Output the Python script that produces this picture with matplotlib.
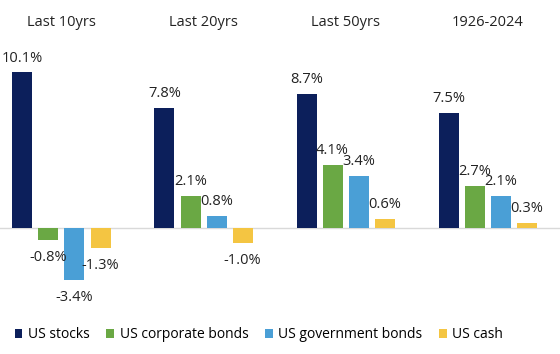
import matplotlib
matplotlib.use("Agg")
import numpy as np
from matplotlib import pyplot as plt
from matplotlib.patches import Patch
import matplotlib.transforms as mtransforms

plt.rcParams['font.family'] = ['Open Sans', 'DejaVu Sans']

periods = ['Last 10yrs', 'Last 20yrs', 'Last 50yrs', '1926-2024']
series = ['US stocks', 'US corporate bonds', 'US government bonds', 'US cash']
stocks = [10.1, 7.8, 8.7, 7.5]
corp_bonds = [-0.8, 2.1, 4.1, 2.7]
gov_bonds = [-3.4, 0.8, 3.4, 2.1]
cash = [-1.3, -1.0, 0.6, 0.3]
colors = ['#0c1f5b', '#6aa844', '#4a9fd6', '#f4c542']

values = [stocks, corp_bonds, gov_bonds, cash]

fig = plt.figure(figsize=(5.6, 3.54), dpi=100)
# axes placed in pixel terms: top 40px, bottom 305px
ax = fig.add_axes([0, (354 - 305) / 354, 1, (305 - 40) / 354])

x = np.arange(len(periods))
offsets = np.array([-39, -13, 13, 39]) / 142
width = 20 / 142

for vals, off, col in zip(values, offsets, colors):
    bars = ax.bar(x + off, vals, width, color=col, zorder=2)
    for b, v in zip(bars, vals):
        if v >= 0:
            ax.annotate(f'{v:.1f}%', (b.get_x() + b.get_width() / 2, v),
                        xytext=(0, 5), textcoords='offset points',
                        ha='center', va='bottom', fontsize=10.5, color='#222222')
        else:
            ax.annotate(f'{v:.1f}%', (b.get_x() + b.get_width() / 2, v),
                        xytext=(0, -7), textcoords='offset points',
                        ha='center', va='top', fontsize=10.5, color='#222222')

ax.axhline(0, color='#d9d9d9', lw=1, zorder=1)
ax.set_xlim(-61.5 / 142, (560 - 61.5) / 142)
ax.set_ylim(-(305 - 228) / 15.4, (228 - 40) / 15.4)
ax.axis('off')

trans = mtransforms.blended_transform_factory(ax.transData, fig.transFigure)
for i, p in enumerate(periods):
    ax.text(i, 1 - 23 / 354, p, transform=trans, ha='center', va='center',
            fontsize=10.5, color='#222222')

handles = [Patch(facecolor=c, label=s) for c, s in zip(colors, series)]
fig.legend(handles=handles, loc='center', bbox_to_anchor=(259 / 560, 1 - 335 / 354),
           ncol=4, frameon=False, fontsize=10, handlelength=0.55, handleheight=0.55,
           handletextpad=0.4, columnspacing=1.2)

fig.savefig('out.png', dpi=100)
